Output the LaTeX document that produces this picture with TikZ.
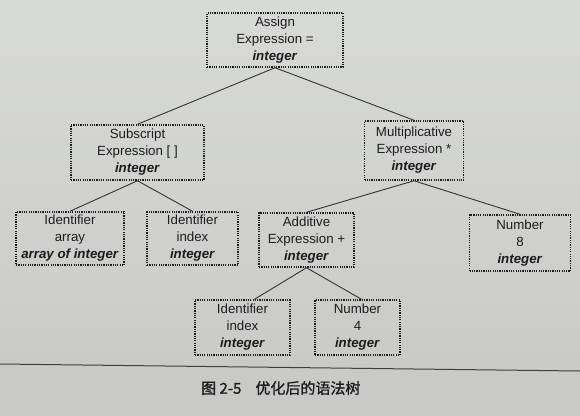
\documentclass[tikz,border=0pt]{standalone}
\usepackage{fontspec}
\setmainfont{Liberation Sans}
\newfontfamily\cjk[FakeBold=1.2]{Noto Sans CJK SC}
\definecolor{papertop}{RGB}{216,218,216}
\definecolor{paperbot}{RGB}{200,201,199}
\definecolor{ink}{RGB}{28,28,28}
\begin{document}
\begin{tikzpicture}[x=1pt,y=-1pt,
  astnode/.style={draw=ink,text=ink,line width=1.5pt,dash pattern=on 1.2pt off 1.1pt,
    align=center,inner sep=0pt,font=\fontsize{13.3}{17}\selectfont},
  edge/.style={draw=ink!90,line width=0.9pt}]
\shade[top color=papertop,bottom color=paperbot] (0,0) rectangle (580,415);
\useasboundingbox (0,0) rectangle (580,415);
\newcommand\ty{\textbf{\textit{integer}}}
\node[astnode,minimum width=136pt,minimum height=54pt] (assign) at (275,40) {Assign\\Expression =\\\ty};
\node[astnode,minimum width=133pt,minimum height=55pt] (sub) at (137.5,152.5) {Subscript\\Expression [ ]\\\ty};
\node[astnode,minimum width=99pt,minimum height=59pt] (mul) at (414,150.5) {Multiplicative\\Expression *\\\ty};
\node[astnode,minimum width=108pt,minimum height=53pt] (arr) at (70,238.5) {Identifier\\array\\\textbf{\textit{array of integer}}};
\node[astnode,minimum width=91pt,minimum height=53pt] (idx) at (192.5,238.5) {Identifier\\index\\\ty};
\node[astnode,minimum width=95pt,minimum height=54pt] (add) at (306.5,240) {Additive\\Expression +\\\ty};
\node[astnode,minimum width=101pt,minimum height=56pt] (n8) at (520,243) {Number\\8\\\ty};
\node[astnode,minimum width=95pt,minimum height=55pt] (idx2) at (242.5,327.5) {Identifier\\index\\\ty};
\node[astnode,minimum width=85pt,minimum height=55pt] (n4) at (357.5,327.5) {Number\\4\\\ty};
\draw[edge] (assign.south) -- (sub.north);
\draw[edge] (assign.south) -- (mul.north);
\draw[edge] (sub.south) -- (arr.north);
\draw[edge] (sub.south) -- (idx.north);
\draw[edge] (mul.south) -- (add.north);
\draw[edge] (mul.south) -- (n8.north);
\draw[edge] (add.south) -- ([xshift=12pt]idx2.north);
\draw[edge] (add.south) -- ([xshift=4pt]n4.north);
\coordinate (ruleL) at (0,364);
\coordinate (ruleR) at (580,371);
\draw[ink!85,line width=1pt] (ruleL) -- (ruleR);
\node[anchor=west,text=ink,font=\cjk\fontsize{15}{17}\selectfont,inner sep=0pt] (cap) at (201,388) {图 2-5\hspace{14pt}优化后的语法树};
\end{tikzpicture}
\end{document}
